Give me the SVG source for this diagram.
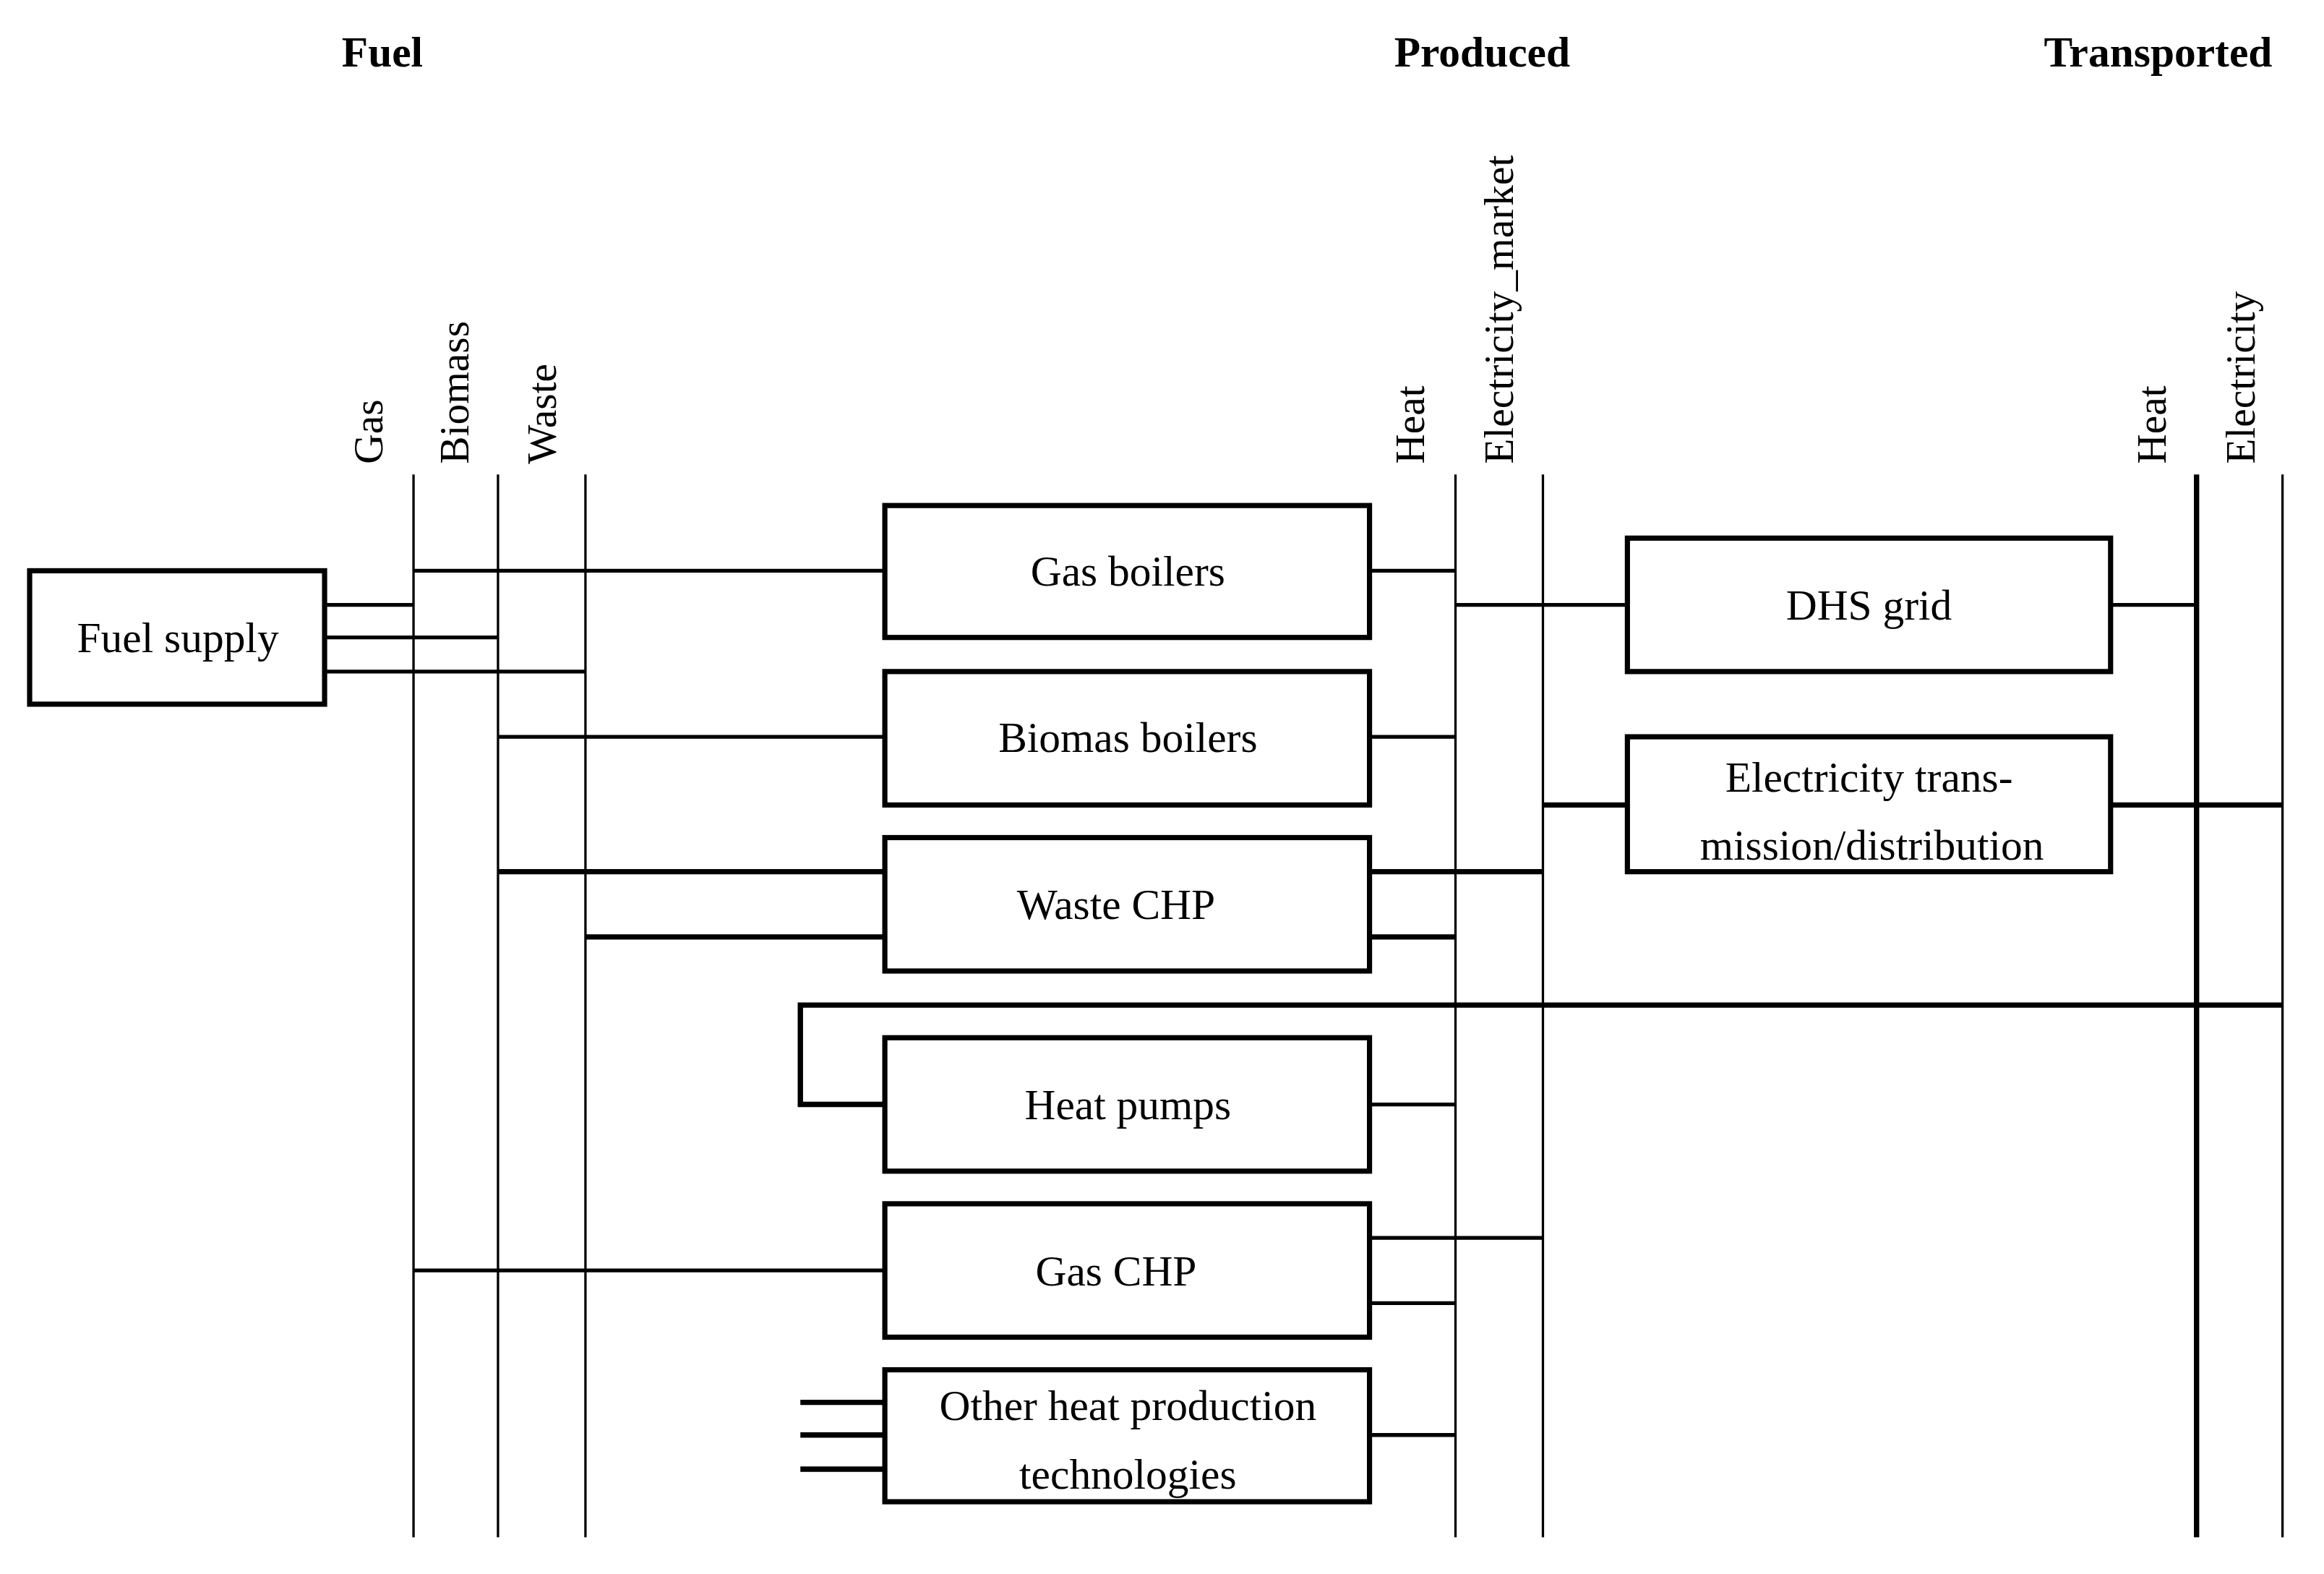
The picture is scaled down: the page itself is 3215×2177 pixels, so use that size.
<svg xmlns="http://www.w3.org/2000/svg" width="3215" height="2177" viewBox="0 0 3215 2177">
<style>
text{font-family:"Liberation Serif","Times New Roman",serif;fill:#000}
.h{font-size:29px;font-weight:bold;text-anchor:middle}
.r{font-size:28px}
.b{font-size:29px;text-anchor:middle}
rect{fill:#fff;stroke:#000;stroke-width:3.5}
.t{stroke:#000;stroke-width:1.6;fill:none}
.k{stroke:#000;stroke-width:2.6;fill:none}
.kk{stroke:#000;stroke-width:3.6;fill:none}
</style>
<rect x="0" y="0" width="3215" height="2177" style="fill:#fff;stroke:none"/>
<g transform="scale(2.0504)">
<g id="headers">
<text class="h" x="258" y="45">Fuel</text>
<text class="h" x="1000" y="45">Produced</text>
<text class="h" x="1456" y="45">Transported</text>
<text class="r" transform="translate(258,313) rotate(-90)">Gas</text>
<text class="r" transform="translate(316,313) rotate(-90)">Biomass</text>
<text class="r" transform="translate(375,313) rotate(-90)">Waste</text>
<text class="r" transform="translate(961,313) rotate(-90)">Heat</text>
<text class="r" transform="translate(1021,313) rotate(-90)">Electricity_market</text>
<text class="r" transform="translate(1461,313) rotate(-90)">Heat</text>
<text class="r" transform="translate(1521,313) rotate(-90)">Electricity</text>
</g>
<g id="connectors">
<path class="t" d="M279 320V1037M336 320V1037M395 320V1037M982 320V1037M1041 320V1037M1540 320V1037"/>
<path class="kk" d="M1482 320V1037"/>
<path class="k" d="M219 408H279M219 430H336M219 453H395"/>
<path class="k" d="M279 385H597M924 385H982"/>
<path class="k" d="M336 497H597M924 497H982"/>
<path class="kk" d="M336 588H597M924 588H1041"/>
<path class="kk" d="M395 632H597M924 632H982"/>
<path class="kk" d="M1540 678H540V745H597"/>
<path class="k" d="M924 745H982"/>
<path class="k" d="M279 857H597M924 835H1041M924 879H982"/>
<path class="kk" d="M540 946H597M540 968H597M540 991H597"/>
<path class="k" d="M924 968H982"/>
<path class="k" d="M982 408H1098M1424 408H1482"/>
<path class="kk" d="M1041 543H1098M1424 543H1540"/>
</g>
<g id="fuel-supply"><rect x="20" y="385" width="199" height="90"/><text class="b" x="120" y="440">Fuel supply</text></g>
<g id="gas-boilers"><rect x="597" y="341" width="327" height="89"/><text class="b" x="761" y="395">Gas boilers</text></g>
<g id="biomas-boilers"><rect x="597" y="453" width="327" height="90"/><text class="b" x="761" y="507">Biomas boilers</text></g>
<g id="waste-chp"><rect x="597" y="565" width="327" height="90"/><text class="b" x="753" y="620">Waste CHP</text></g>
<g id="heat-pumps"><rect x="597" y="700" width="327" height="90"/><text class="b" x="761" y="755">Heat pumps</text></g>
<g id="gas-chp"><rect x="597" y="812" width="327" height="90"/><text class="b" x="753" y="867">Gas CHP</text></g>
<g id="other"><rect x="597" y="924" width="327" height="89"/><text class="b" x="761" y="958">Other heat production</text><text class="b" x="761" y="1004">technologies</text></g>
<g id="dhs-grid"><rect x="1098" y="363" width="326" height="90"/><text class="b" x="1261" y="418">DHS grid</text></g>
<g id="elec-trans"><rect x="1098" y="497" width="326" height="91"/><text class="b" x="1261" y="534">Electricity trans-</text><text class="b" x="1263" y="580">mission/distribution</text></g>
</g>
</svg>
